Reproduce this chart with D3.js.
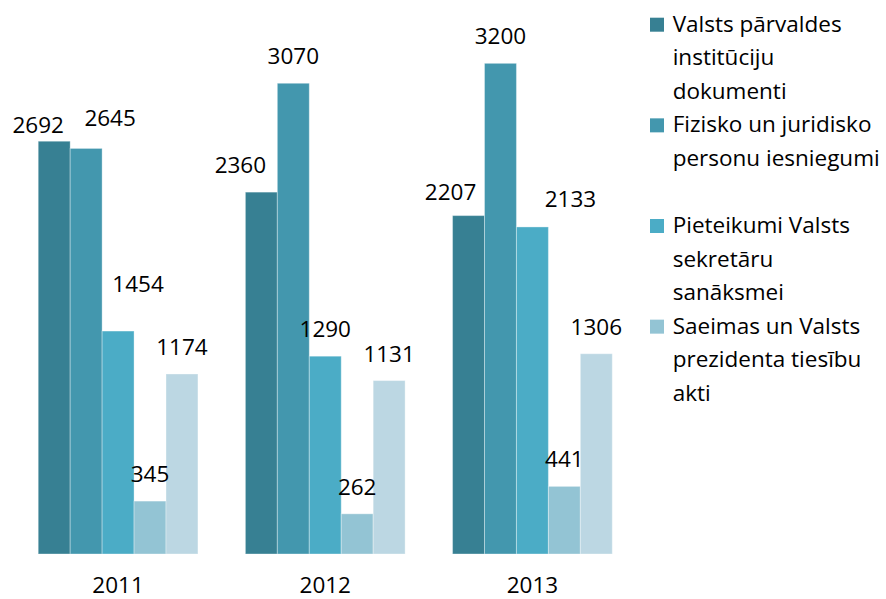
<!DOCTYPE html>
<html lang="lv">

<head>
    <meta charset="utf-8">
    <title>Dokumenti</title>
    <script src="https://d3js.org/d3.v7.min.js"></script>
    <style>
        body {
            margin: 0;
            background: white;
        }

        svg {
            display: block;
            font-family: "Open Sans", sans-serif;
        }
    </style>
</head>

<body>
    <div id="chart"></div>

    <script>
        // data
        const years = ['2011', '2012', '2013'];
        const seriesNames = [
            ['Valsts pārvaldes', 'institūciju', 'dokumenti'],
            ['Fizisko un juridisko', 'personu iesniegumi'],
            ['Pieteikumi Valsts', 'sekretāru', 'sanāksmei'],
            ['Saeimas un Valsts', 'prezidenta tiesību', 'akti']
        ];
        const valstsDokumenti = [2692, 2360, 2207];
        const iesniegumi = [2645, 3070, 3200];
        const pieteikumi = [1454, 1290, 2133];
        const tiesibuAkti = [345, 262, 441];
        const piektaisSerija = [1174, 1131, 1306];
        const allSeries = [valstsDokumenti, iesniegumi, pieteikumi, tiesibuAkti, piektaisSerija];
        const colors = ['#378093', '#4397ae', '#4bacc6', '#93c4d4', '#bcd7e3'];

        // label nudges (series, year) -> [dx, dy], as placed by hand in the original
        const labelNudge = {
            '0-0': [-16, 11], '1-0': [24, -3], '2-0': [20, -20],
            '0-1': [-21, 0], '0-2': [-18, 3], '2-2': [38, -1]
        };

        const width = 886, height = 599;
        const plotLeft = 14.5, plotRight = 636, baseY = 554, topY = 2;

        const svg = d3.select('#chart')
            .append('svg')
            .attr('width', width)
            .attr('height', height);

        const x0 = d3.scaleBand()
            .domain(years)
            .range([plotLeft, plotRight])
            .paddingInner(0.229)
            .paddingOuter(0.1145);

        const x1 = d3.scaleBand()
            .domain(d3.range(allSeries.length))
            .range([0, x0.bandwidth()])
            .padding(0);

        const y = d3.scaleLinear()
            .domain([0, 3600])
            .range([baseY, topY]);

        const bars = [];
        allSeries.forEach((vals, s) => {
            vals.forEach((v, i) => bars.push({ s: s, year: years[i], i: i, v: v }));
        });

        const plot = svg.append('g');

        plot.selectAll('rect.bar')
            .data(bars)
            .join('rect')
            .attr('class', 'bar')
            .attr('x', d => x0(d.year) + x1(d.s))
            .attr('y', d => y(d.v))
            .attr('width', x1.bandwidth())
            .attr('height', d => baseY - y(d.v))
            .attr('fill', d => colors[d.s])
            .attr('stroke', 'rgba(255,255,255,0.35)')
            .attr('stroke-width', 1);

        plot.selectAll('text.val')
            .data(bars)
            .join('text')
            .attr('class', 'val')
            .attr('text-anchor', 'middle')
            .attr('font-size', '22.5px')
            .attr('fill', '#000')
            .attr('x', d => {
                const n = labelNudge[d.s + '-' + d.i] || [0, 0];
                return x0(d.year) + x1(d.s) + x1.bandwidth() / 2 + n[0];
            })
            .attr('y', d => {
                const n = labelNudge[d.s + '-' + d.i] || [0, 0];
                return y(d.v) - 19 + n[1];
            })
            .text(d => d.v);

        // category labels
        svg.append('g')
            .selectAll('text')
            .data(years)
            .join('text')
            .attr('text-anchor', 'middle')
            .attr('font-size', '22.5px')
            .attr('x', d => x0(d) + x0.bandwidth() / 2)
            .attr('y', 593)
            .text(d => d);

        // legend, on a 3-line grid per entry
        const lineH = 33.55;
        const legend = svg.append('g').attr('transform', 'translate(650,31.7)');
        seriesNames.forEach((lines, s) => {
            const g = legend.append('g').attr('transform', 'translate(0,' + (s * 3 * lineH) + ')');
            g.append('rect')
                .attr('x', 0)
                .attr('y', -14)
                .attr('width', 14)
                .attr('height', 14)
                .attr('fill', colors[s]);
            g.selectAll('text')
                .data(lines)
                .join('text')
                .attr('x', 22.7)
                .attr('y', (d, k) => k * lineH)
                .attr('font-size', '22.5px')
                .text(d => d);
        });
    </script>
</body>

</html>
